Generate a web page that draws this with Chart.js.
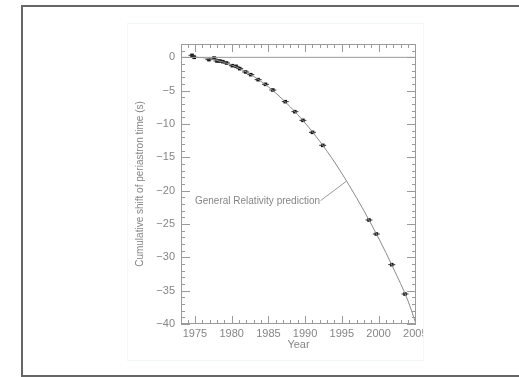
<!DOCTYPE html>
<html>
<head>
<meta charset="utf-8">
<script src="https://cdn.jsdelivr.net/npm/chart.js@4"></script>
<style>
  body { margin: 0; background: #fff; }
  #frame { position: absolute; left: 21px; top: 5px; width: 520px; height: 368px; border: 2px solid #666; border-right: none; }
  #figBorder { position: absolute; left: 127px; top: 23px; width: 295px; height: 336px; border: 1px solid #f1f6f6; }
  #fig { position: absolute; left: 127px; top: 23px; width: 296px; height: 337px; overflow: hidden; }
  canvas { display: block; }
</style>
</head>
<body>
<div id="frame"></div>
<div id="figBorder"></div>
<div id="fig"><canvas id="shiftChart" width="309" height="337" style="width:309px;height:337px"></canvas></div>
<script>
// measured periastron shift (years, seconds)
const obsYears  = [1974.6, 1974.9, 1976.9, 1977.6, 1978.0, 1978.4, 1978.8, 1979.3, 1980.1, 1980.6, 1981.1,
                   1981.9, 1982.6, 1983.6, 1984.6, 1985.6, 1987.3, 1988.6, 1989.7, 1991.0, 1992.4,
                   1998.7, 1999.7, 2001.8, 2003.6];
const obsShifts = [0.3, 0.0, -0.35, -0.1, -0.55, -0.55, -0.65, -0.85, -1.25, -1.35, -1.7,
                   -2.2, -2.6, -3.35, -4.05, -4.9, -6.65, -8.15, -9.45, -11.25, -13.2,
                   -24.4, -26.5, -31.1, -35.5];

// GR prediction curve
const grYears  = [1974.8, 1976, 1978, 1980, 1982, 1984, 1986, 1988, 1990, 1992, 1994, 1996, 1998, 2000, 2002, 2004, 2005.1];
const grShifts = [0, -0.05, -0.45, -1.15, -2.2, -3.6, -5.35, -7.45, -9.85, -12.6, -15.7, -19.2, -23.0, -27.1, -31.6, -36.5, -40.0];

const xMin = 1973.1, xMax = 2005.1;
const yMin = -40, yMax = 2;

const textGray = '#858585';
const lineGray = '#9a9a9a';

const obsPoints = obsYears.map((x, i) => ({x: x, y: obsShifts[i]}));
const grPoints = grYears.map((x, i) => ({x: x, y: grShifts[i]}));

Chart.defaults.font.family = '"Liberation Sans", Arial, sans-serif';
Chart.defaults.color = textGray;

// frame with inward ticks on all four sides, plus the curve label
const frameTicks = {
  id: 'frameTicks',
  afterDatasetsDraw(chart) {
    const {ctx, chartArea: a, scales: {x, y}} = chart;
    ctx.save();
    ctx.strokeStyle = lineGray;
    ctx.lineWidth = 1;
    ctx.strokeRect(a.left + 0.5, a.top + 0.5, a.width - 1, a.height - 1);
    ctx.beginPath();
    for (let v = 1974; v <= 2005; v++) {
      const px = Math.round(x.getPixelForValue(v)) + 0.5;
      const len = v % 5 === 0 ? 8 : 4;
      ctx.moveTo(px, a.bottom); ctx.lineTo(px, a.bottom - len);
      ctx.moveTo(px, a.top); ctx.lineTo(px, a.top + len);
    }
    for (let v = -40; v <= 1; v++) {
      const py = Math.round(y.getPixelForValue(v)) + 0.5;
      const len = v % 5 === 0 ? 9 : 4;
      ctx.moveTo(a.left, py); ctx.lineTo(a.left + len, py);
      ctx.moveTo(a.right, py); ctx.lineTo(a.right - len, py);
    }
    ctx.stroke();

    // label + leader line
    ctx.fillStyle = textGray;
    ctx.font = '10px "Liberation Sans", Arial, sans-serif';
    ctx.textAlign = 'left';
    ctx.textBaseline = 'middle';
    ctx.fillText('General Relativity prediction', x.getPixelForValue(1975.0), y.getPixelForValue(-21.6));
    ctx.beginPath();
    ctx.moveTo(x.getPixelForValue(1992.1), y.getPixelForValue(-21.5));
    ctx.lineTo(x.getPixelForValue(1995.6), y.getPixelForValue(-18.6));
    ctx.stroke();
    ctx.restore();
  }
};

const ctx = document.getElementById('shiftChart').getContext('2d');
const shiftChart = new Chart(ctx, {
  type: 'scatter',
  data: {
    datasets: [{
      label: 'zero',
      data: [{x: xMin, y: 0}, {x: xMax, y: 0}],
      showLine: true,
      borderColor: lineGray,
      borderWidth: 1,
      pointRadius: 0
    }, {
      label: 'General Relativity prediction',
      data: grPoints,
      showLine: true,
      cubicInterpolationMode: 'monotone',
      borderColor: '#8a8a8a',
      borderWidth: 1,
      pointRadius: 0
    }, {
      label: 'error bars',
      data: obsPoints,
      pointStyle: 'line',
      pointRadius: 3.5,
      borderColor: '#333',
      pointBorderWidth: 1
    }, {
      label: 'observed',
      data: obsPoints,
      pointStyle: 'rect',
      pointRadius: 2.5,
      backgroundColor: '#111',
      borderColor: '#111',
      pointBorderWidth: 0
    }]
  },
  options: {
    responsive: false,
    animation: false,
    layout: { padding: { left: 0, top: 21, right: 20, bottom: 8 } },
    plugins: { legend: { display: false }, tooltip: { enabled: false } },
    scales: {
      x: {
        type: 'linear',
        min: xMin,
        max: xMax,
        afterFit: s => { s.height = 28; },
        grid: { display: false, drawTicks: false },
        border: { display: false },
        ticks: {
          stepSize: 5,
          includeBounds: false,
          padding: 3,
          maxRotation: 0,
          font: { size: 11 },
          callback: v => String(v)
        },
        title: { display: true, text: 'Year', font: { size: 11 }, padding: { top: 0, bottom: 0 } }
      },
      y: {
        min: yMin,
        max: yMax,
        afterFit: s => { s.width = 54; },
        grid: { display: false, drawTicks: false },
        border: { display: false },
        ticks: {
          stepSize: 5,
          includeBounds: false,
          padding: 6,
          font: { size: 11 },
          callback: v => v < 0 ? '\u2212' + (-v) : String(v)
        },
        title: { display: true, text: 'Cumulative shift of periastron time (s)', font: { size: 10 }, padding: { top: 7, bottom: 0 } }
      }
    }
  },
  plugins: [frameTicks]
});
</script>
</body>
</html>
